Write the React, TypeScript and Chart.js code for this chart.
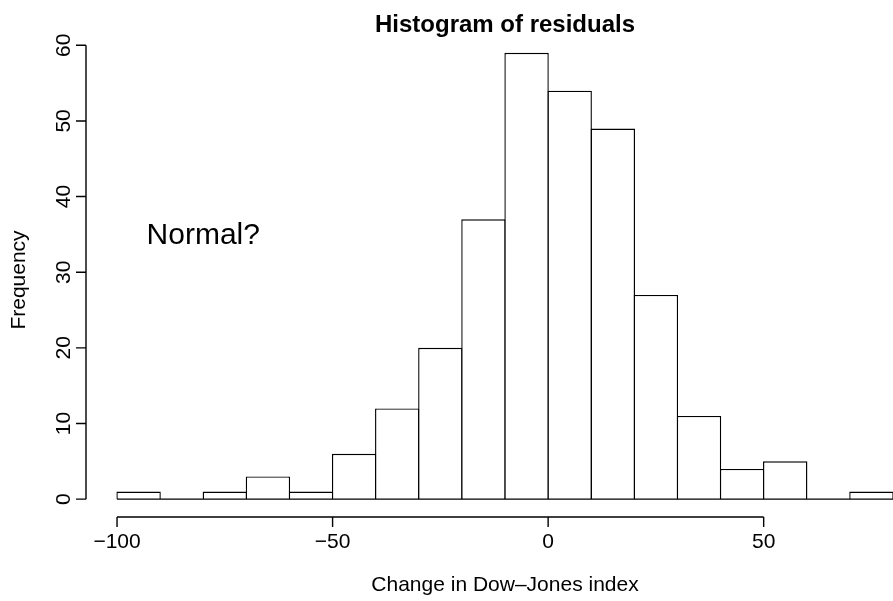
import React, { useEffect, useRef } from "react";
import { Chart, registerables } from "chart.js";

Chart.register(...registerables);

// ---- data ----
const binStarts = [-100, -90, -80, -70, -60, -50, -40, -30, -20, -10, 0, 10, 20, 30, 40, 50, 60, 70];
const binWidth = 10;
const counts = [1, 0, 1, 3, 1, 6, 12, 20, 37, 59, 54, 49, 27, 11, 4, 5, 0, 1];
const xTicks = [-100, -50, 0, 50];
const yTicks = [0, 10, 20, 30, 40, 50, 60];
const titleText = "Histogram of residuals";
const xLabel = "Change in Dow\u2013Jones index";
const yLabel = "Frequency";
const noteText = "Normal?";
const noteX = -80;
const noteY = 35;

const FONT = "'Liberation Sans', Arial, Helvetica, sans-serif";
const LW = 1.4;

const fmt = (v: number) => (v < 0 ? "\u2212" + Math.abs(v) : String(v));

const rAxesPlugin = {
  id: "rAxes",
  afterDatasetsDraw(chart: any) {
    const { ctx } = chart;
    const xs = chart.scales.x;
    const ys = chart.scales.y;
    ctx.save();
    ctx.strokeStyle = "#000";
    ctx.lineWidth = LW;
    // baseline under all bins (zero-height bins show as lines)
    const y0 = ys.getPixelForValue(0);
    ctx.beginPath();
    ctx.moveTo(xs.getPixelForValue(binStarts[0]), y0);
    ctx.lineTo(xs.getPixelForValue(binStarts[binStarts.length - 1] + binWidth), y0);
    ctx.stroke();
    ctx.restore();
  },
  afterDraw(chart: any) {
    const { ctx, chartArea } = chart;
    const xs = chart.scales.x;
    const ys = chart.scales.y;
    ctx.save();
    ctx.strokeStyle = "#000";
    ctx.fillStyle = "#000";
    ctx.lineWidth = LW;
    const tick = 10;

    // y axis
    const ax = chartArea.left;
    ctx.beginPath();
    ctx.moveTo(ax, ys.getPixelForValue(yTicks[0]));
    ctx.lineTo(ax, ys.getPixelForValue(yTicks[yTicks.length - 1]));
    for (const t of yTicks) {
      const p = ys.getPixelForValue(t);
      ctx.moveTo(ax, p);
      ctx.lineTo(ax - tick, p);
    }
    ctx.stroke();
    ctx.font = `21px ${FONT}`;
    ctx.textAlign = "center";
    ctx.textBaseline = "alphabetic";
    for (const t of yTicks) {
      const p = ys.getPixelForValue(t);
      ctx.save();
      ctx.translate(ax - 16, p);
      ctx.rotate(-Math.PI / 2);
      ctx.fillText(fmt(t), 0, 0);
      ctx.restore();
    }

    // x axis
    const ay = chartArea.bottom;
    ctx.beginPath();
    ctx.moveTo(xs.getPixelForValue(xTicks[0]), ay);
    ctx.lineTo(xs.getPixelForValue(xTicks[xTicks.length - 1]), ay);
    for (const t of xTicks) {
      const p = xs.getPixelForValue(t);
      ctx.moveTo(p, ay);
      ctx.lineTo(p, ay + tick);
    }
    ctx.stroke();
    for (const t of xTicks) {
      ctx.fillText(fmt(t), xs.getPixelForValue(t), ay + 31);
    }

    // axis titles (centred on the full R plot region, which extends past the canvas)
    const plotMidX = (chartArea.left + xs.getPixelForValue(87.2)) / 2;
    ctx.fillText(xLabel, plotMidX, ay + 74);
    ctx.save();
    ctx.translate(25, (chartArea.top + chartArea.bottom) / 2 + 4);
    ctx.rotate(-Math.PI / 2);
    ctx.fillText(yLabel, 0, 0);
    ctx.restore();

    // title
    ctx.font = `bold 24px ${FONT}`;
    ctx.fillText(titleText, plotMidX, 32);

    // annotation
    ctx.font = `30px ${FONT}`;
    ctx.textBaseline = "middle";
    ctx.fillText(noteText, xs.getPixelForValue(noteX), ys.getPixelForValue(noteY) + 1);
    ctx.restore();
  },
};

export default function App() {
  const ref = useRef<HTMLCanvasElement | null>(null);
  useEffect(() => {
    document.body.style.margin = "0";
    const canvas = ref.current;
    if (!canvas) return;
    const data = binStarts.map((s, i) => ({ x: s + binWidth / 2, y: counts[i] }));
    const chart = new Chart(canvas, {
      type: "bar",
      data: {
        datasets: [
          {
            data: data as any,
            backgroundColor: "#ffffff",
            borderColor: "#000000",
            borderWidth: LW,
            borderSkipped: "bottom",
            barPercentage: 1.03,
            categoryPercentage: 1,
            inflateAmount: 0,
          } as any,
        ],
      },
      options: {
        animation: false,
        responsive: false,
        maintainAspectRatio: false,
        layout: { padding: { left: 86, right: 0, top: 35, bottom: 84 } },
        plugins: { legend: { display: false }, tooltip: { enabled: false }, title: { display: false } },
        scales: {
          x: {
            type: "linear",
            display: false,
            offset: false,
            grid: { offset: false },
            min: -107.2,
            max: 80,
            afterBuildTicks: (s: any) => {
              s.ticks = xTicks.map((v) => ({ value: v }));
            },
          },
          y: {
            type: "linear",
            display: false,
            min: -2.36,
            max: 61.36,
            afterBuildTicks: (s: any) => {
              s.ticks = yTicks.map((v) => ({ value: v }));
            },
          },
        },
      } as any,
      plugins: [rAxesPlugin],
    });
    return () => chart.destroy();
  }, []);
  return (
    <div style={{ width: 893, height: 601, background: "#fff" }}>
      <canvas ref={ref} width={893} height={601} style={{ display: "block" }} />
    </div>
  );
}
